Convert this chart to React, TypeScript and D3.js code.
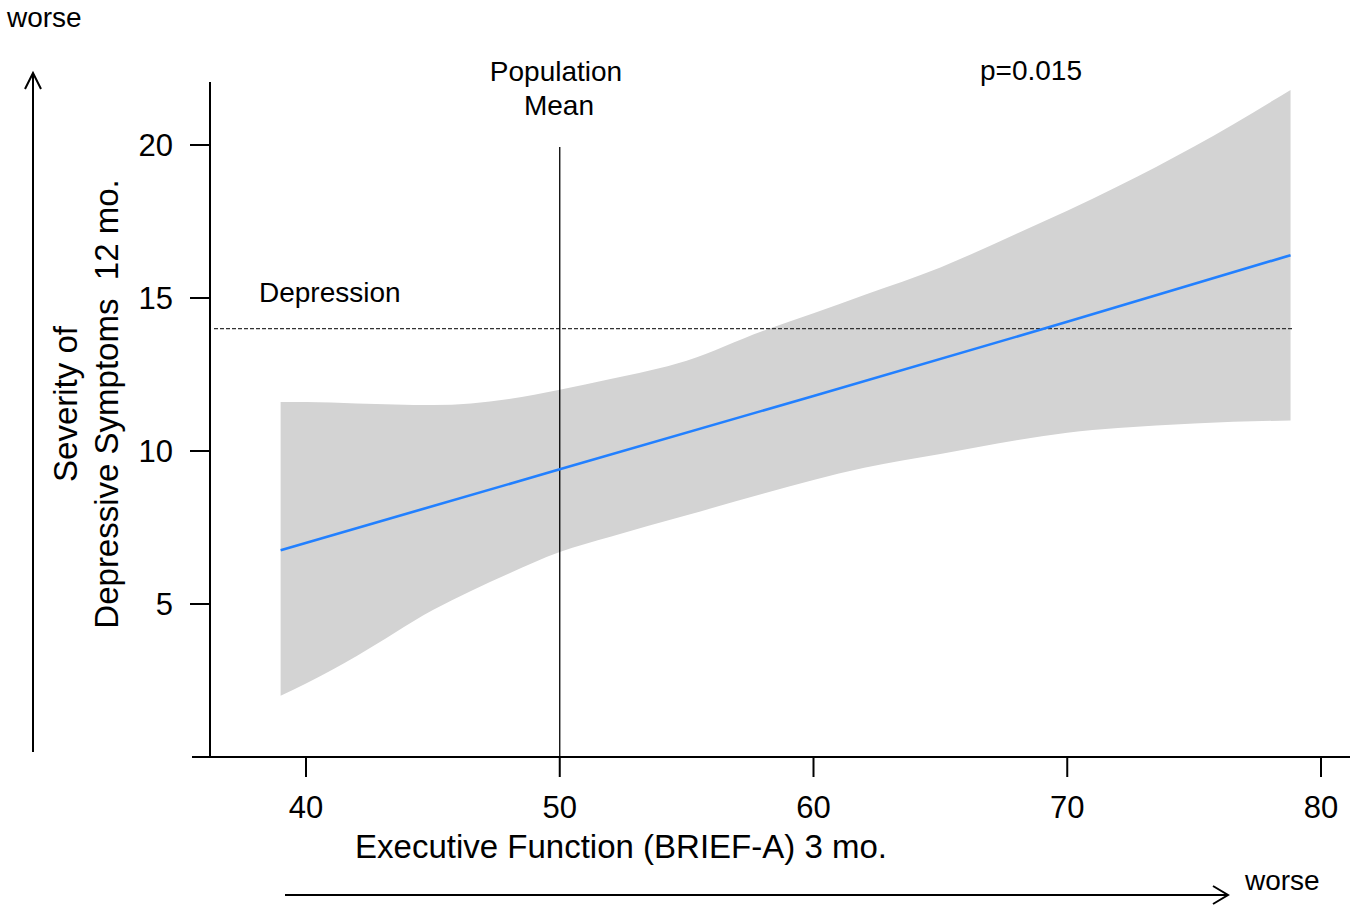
import React from "react";
import * as d3 from "d3";

// ---- data ----
const bandX = [39, 40, 42, 45, 48, 50, 52, 55, 58, 60, 62, 65, 68, 70, 72, 75, 78.8];
const bandUpper = [11.6, 11.6, 11.55, 11.5, 11.7, 12.0, 12.35, 12.95, 13.92, 14.5, 15.1, 16.0, 17.1, 17.85, 18.65, 19.95, 21.8];
const bandLower = [2.0, 2.4, 3.3, 4.8, 6.0, 6.7, 7.2, 7.9, 8.6, 9.05, 9.45, 9.9, 10.35, 10.6, 10.75, 10.9, 11.0];
const fitX = [39, 50, 60, 70, 78.8];
const fitY = [6.76, 9.4, 11.8, 14.22, 16.4];
const xTicks = [40, 50, 60, 70, 80];
const yTicks = [5, 10, 15, 20];
const populationMean = 50;
const depressionCutoff = 14;

const W = 1355;
const H = 906;
const FONT = "'Liberation Sans', Arial, Helvetica, sans-serif";

export default function App() {
  const x = d3.scaleLinear().domain([40, 80]).range([306, 1321]);
  const y = d3.scaleLinear().domain([0, 20]).range([757, 145]);

  const xAxisLeft = x.invert(192);
  const xAxisRight = x.invert(1350);
  const yAxisX = x.invert(210);
  const yTop = y.invert(82);

  const band = bandX.map((v, i) => ({ x: v, lo: bandLower[i], hi: bandUpper[i] }));
  const areaGen = d3
    .area<{ x: number; lo: number; hi: number }>()
    .x((d) => x(d.x))
    .y0((d) => y(d.lo))
    .y1((d) => y(d.hi))
    .curve(d3.curveMonotoneX);

  const fit = fitX.map((v, i) => [v, fitY[i]] as [number, number]);
  const lineGen = d3
    .line<[number, number]>()
    .x((d) => x(d[0]))
    .y((d) => y(d[1]));

  const ax = x(yAxisX);
  const bandEnd = x(bandX[bandX.length - 1]);

  return (
    <svg
      width={W}
      height={H}
      style={{ position: "absolute", left: 0, top: 0, background: "#fff" }}
      fontFamily={FONT}
    >
      {/* confidence band */}
      <path d={areaGen(band) || ""} fill="#d3d3d3" stroke="none" />

      {/* depression cutoff */}
      <line
        x1={ax + 4}
        x2={bandEnd + 2}
        y1={y(depressionCutoff)}
        y2={y(depressionCutoff)}
        stroke="#333"
        strokeWidth={1.3}
        strokeDasharray="4,2"
      />

      {/* population mean */}
      <line
        x1={x(populationMean)}
        x2={x(populationMean)}
        y1={y(20) + 2}
        y2={y(0)}
        stroke="#000"
        strokeWidth={1.3}
      />

      {/* fitted line */}
      <path d={lineGen(fit) || ""} fill="none" stroke="#2280ff" strokeWidth={2.6} />

      {/* x axis */}
      <line x1={x(xAxisLeft)} x2={x(xAxisRight)} y1={y(0)} y2={y(0)} stroke="#000" strokeWidth={2} />
      {xTicks.map((t) => (
        <g key={t}>
          <line x1={x(t)} x2={x(t)} y1={y(0)} y2={y(0) + 20} stroke="#000" strokeWidth={2} />
          <text x={x(t)} y={818} textAnchor="middle" fontSize={31} fill="#000">
            {t}
          </text>
        </g>
      ))}

      {/* y axis */}
      <line x1={ax} x2={ax} y1={y(yTop)} y2={y(0)} stroke="#000" strokeWidth={2} />
      {yTicks.map((t) => (
        <g key={t}>
          <line x1={ax - 20} x2={ax} y1={y(t)} y2={y(t)} stroke="#000" strokeWidth={2} />
          <text x={173} y={y(t)} dy="0.35em" textAnchor="end" fontSize={31} fill="#000">
            {t}
          </text>
        </g>
      ))}

      {/* axis titles */}
      <text x={621} y={858} textAnchor="middle" fontSize={33} fill="#000">
        Executive Function (BRIEF-A) 3 mo.
      </text>
      <g transform="translate(77,404) rotate(-90)">
        <text x={0} y={0} textAnchor="middle" fontSize={33} fill="#000">
          Severity of
        </text>
      </g>
      <g transform="translate(118,404) rotate(-90)">
        <text x={0} y={0} textAnchor="middle" fontSize={33} fill="#000" style={{ whiteSpace: "pre" }}>
          {"Depressive Symptoms  12 mo."}
        </text>
      </g>

      {/* annotations */}
      <text x={556} y={81} textAnchor="middle" fontSize={28} fill="#000">
        Population
      </text>
      <text x={559} y={115} textAnchor="middle" fontSize={28} fill="#000">
        Mean
      </text>
      <text x={1031} y={80} textAnchor="middle" fontSize={28} fill="#000">
        p=0.015
      </text>
      <text x={259} y={302} fontSize={28} fill="#000">
        Depression
      </text>

      {/* "worse" arrows */}
      <text x={7} y={27} fontSize={28} fill="#000">
        worse
      </text>
      <line x1={33} x2={33} y1={752} y2={73} stroke="#000" strokeWidth={2} />
      <polyline points="25,89 33,73 41,89" fill="none" stroke="#000" strokeWidth={2} />

      <line x1={285} x2={1228} y1={895} y2={895} stroke="#000" strokeWidth={2} />
      <polyline points="1213,886 1228,895 1213,904" fill="none" stroke="#000" strokeWidth={2} />
      <text x={1245} y={890} fontSize={28} fill="#000">
        worse
      </text>
    </svg>
  );
}
